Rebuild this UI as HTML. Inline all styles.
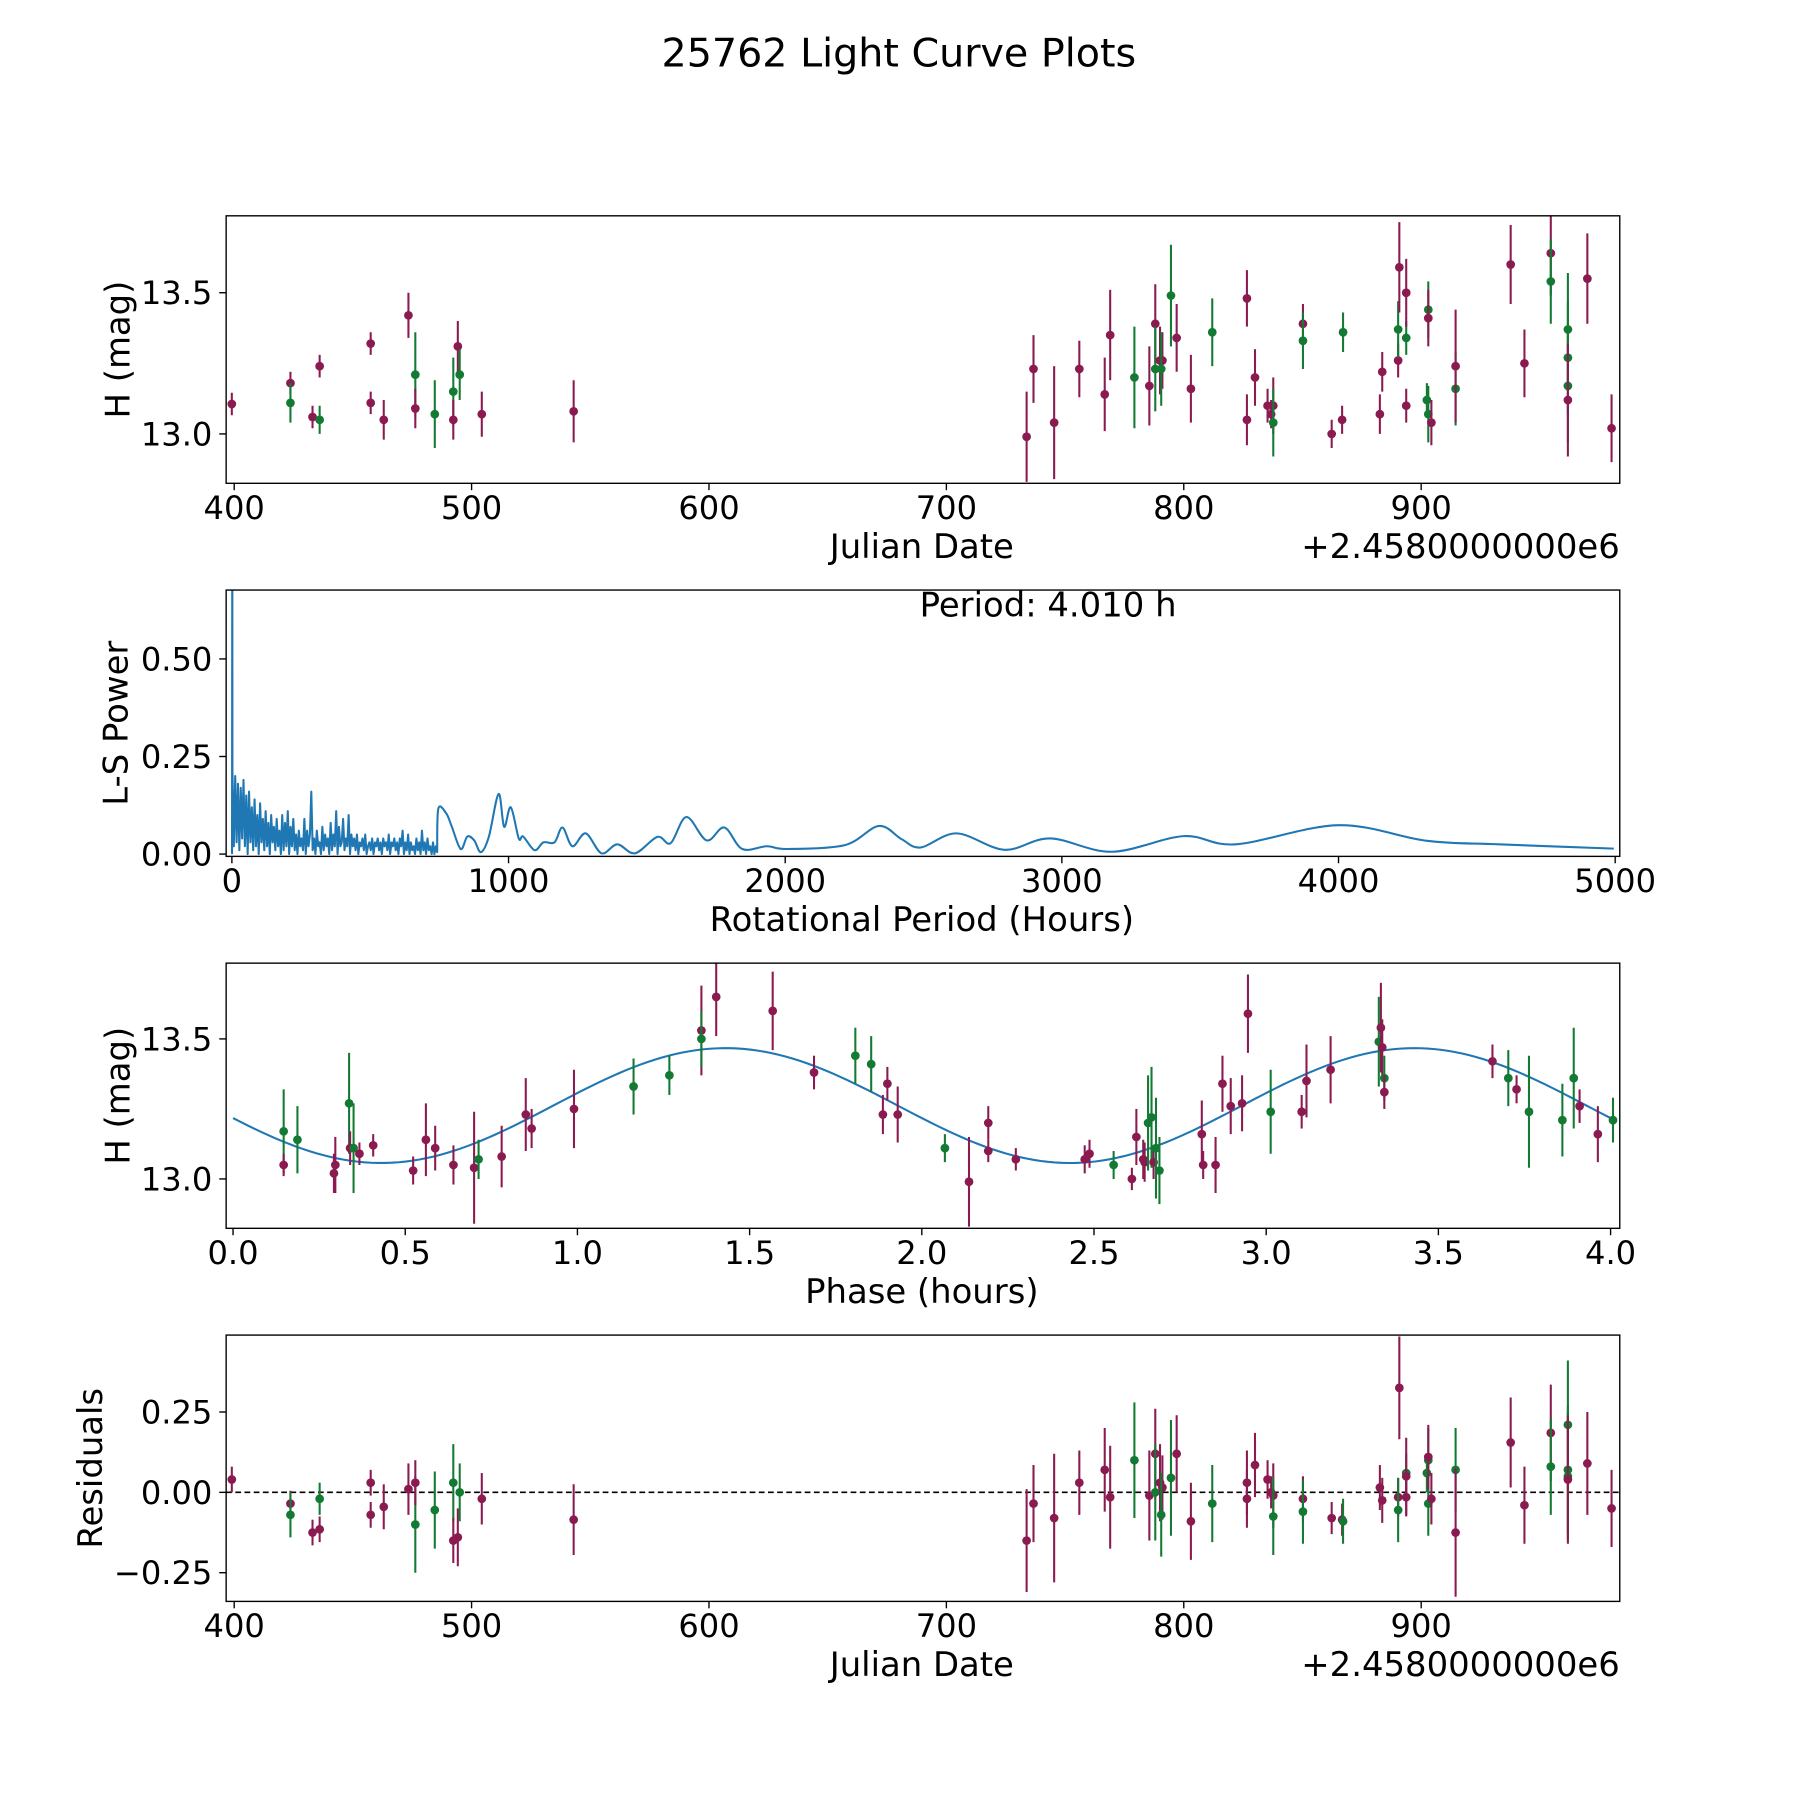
<!DOCTYPE html>
<html><head><meta charset="utf-8"><style>
html,body{margin:0;padding:0;background:#fff}
svg{display:block}
text{font-family:"DejaVu Sans","Liberation Sans",sans-serif;fill:#000}
</style></head><body>
<svg id="fig" width="1800" height="1800" viewBox="0 0 1568 1568" xmlns="http://www.w3.org/2000/svg">
<rect width="1568" height="1568" fill="#fff"/>
<text x="783" y="58" font-size="34.5" text-anchor="middle">25762 Light Curve Plots</text>
</svg>
<script>
// ---------- DATA ----------
const jd = [399,423.7,423.7,433,436,436,457.5,457.5,463,473.4,476.3,476.3,484.5,492.3,492.3,494.2,495,504.3,543,
733.8,736.7,745.4,756,766.7,769,779.2,785.5,788,788,790,791,790.5,794.6,797,803,812,826.6,826.6,830,835.3,836.8,837.7,837.7,850.2,850.2,862.3,866.7,867.1,882.6,883.6,890.3,890.3,890.8,893.7,893.7,893.7,902.4,903,903,903,904.3,914.5,914.5,937.7,943.5,954.6,954.6,961.8,961.8,961.8,961.8,970,980.2];
const mag = [13.106,13.18,13.11,13.06,13.24,13.05,13.32,13.11,13.05,13.42,13.21,13.09,13.07,13.15,13.05,13.31,13.21,13.07,13.08,
12.99,13.23,13.04,13.23,13.14,13.35,13.2,13.17,13.39,13.23,13.26,13.26,13.23,13.49,13.34,13.16,13.36,13.48,13.05,13.2,13.1,13.07,13.1,13.04,13.39,13.33,13.0,13.05,13.36,13.07,13.22,13.26,13.37,13.59,13.34,13.5,13.1,13.12,13.07,13.44,13.41,13.04,13.16,13.24,13.6,13.25,13.64,13.54,13.37,13.27,13.17,13.12,13.55,13.02];
const magErr = [0.04,0.04,0.07,0.04,0.04,0.05,0.04,0.04,0.07,0.08,0.15,0.07,0.12,0.12,0.07,0.09,0.09,0.08,0.11,
0.16,0.12,0.2,0.1,0.13,0.16,0.18,0.14,0.14,0.15,0.12,0.1,0.13,0.18,0.12,0.12,0.12,0.1,0.09,0.1,0.06,0.05,0.1,0.12,0.07,0.1,0.05,0.05,0.07,0.07,0.07,0.06,0.1,0.16,0.06,0.12,0.06,0.06,0.1,0.1,0.1,0.08,0.13,0.2,0.14,0.12,0.15,0.15,0.2,0.2,0.2,0.2,0.16,0.12];
const band = "PPGPPGPPPPGPGGPPGPPPPPPPPGPPGPPGGPPGPPPPPPGPGPPGPPPGPGPPGGGPPGPPPPGGGGPP";
const resid = [0.04,-0.035,-0.07,-0.125,-0.115,-0.02,0.03,-0.07,-0.045,0.01,-0.1,0.03,-0.055,0.03,-0.15,-0.14,0.0,-0.02,-0.085,
-0.15,-0.035,-0.08,0.03,0.07,-0.015,0.1,-0.01,0.12,0.0,0.03,0.015,-0.07,0.045,0.12,-0.09,-0.035,0.03,-0.02,0.085,0.04,0.0,-0.01,-0.075,-0.02,-0.06,-0.08,-0.085,-0.09,0.015,-0.025,-0.015,-0.055,0.325,0.06,0.05,-0.015,0.06,-0.035,0.1,0.11,-0.02,0.07,-0.125,0.155,-0.04,0.185,0.08,0.21,0.07,0.05,0.04,0.09,-0.05];
const phase = [0.147,0.147,0.187,0.293,0.297,0.337,0.34,0.35,0.367,0.407,0.523,0.56,0.587,0.64,0.7,0.713,0.78,0.85,0.867,0.99,1.163,1.267,1.36,1.36,1.403,1.567,1.687,1.807,1.853,1.887,1.9,1.93,2.067,2.137,2.193,2.193,2.273,2.473,2.487,2.557,2.61,2.623,2.643,2.647,2.657,2.667,2.673,2.68,2.69,2.813,2.817,2.853,2.873,2.897,2.93,2.947,3.013,3.103,3.117,3.187,3.327,3.333,3.337,3.343,3.343,3.657,3.703,3.727,3.763,3.86,3.893,3.91,3.963,4.007];
const phaseMag = [13.17,13.05,13.14,13.02,13.05,13.27,13.11,13.11,13.09,13.12,13.03,13.14,13.11,13.05,13.04,13.07,13.08,13.23,13.18,13.25,13.33,13.37,13.53,13.5,13.65,13.6,13.38,13.44,13.41,13.23,13.34,13.23,13.11,12.99,13.1,13.2,13.07,13.07,13.09,13.05,13.0,13.15,13.07,13.06,13.2,13.22,13.06,13.11,13.03,13.16,13.05,13.05,13.34,13.26,13.27,13.59,13.24,13.24,13.35,13.39,13.49,13.54,13.47,13.36,13.31,13.42,13.36,13.32,13.24,13.21,13.36,13.26,13.16,13.21];
const phaseErr = [0.15,0.04,0.12,0.07,0.1,0.18,0.06,0.16,0.04,0.04,0.05,0.13,0.08,0.07,0.2,0.07,0.11,0.13,0.07,0.14,0.1,0.07,0.16,0.1,0.14,0.14,0.06,0.1,0.1,0.07,0.06,0.1,0.05,0.16,0.04,0.06,0.04,0.05,0.05,0.05,0.04,0.1,0.07,0.07,0.17,0.18,0.06,0.18,0.12,0.12,0.05,0.1,0.1,0.1,0.1,0.14,0.15,0.06,0.13,0.12,0.16,0.16,0.1,0.08,0.06,0.06,0.1,0.05,0.2,0.13,0.18,0.06,0.1,0.08];
const phaseBand = "GPGPPGPGPPPPPPPGPPPPGGPGPPPGGPPPGPPPPPPGPPPPGGPGGPPPPPPPGPPPGPPGPPGPGGGPPG";
const fitParams = [13.262, 0.205, 2.0, 0.93]; // mean, amplitude, half-period(h), phase offset
const denseStart = 2, denseStep = 5;
const densePower = [0.21,0.02,0.2,0.03,0.18,0.01,0.17,0.04,0.19,0.02,0.15,0.0,0.16,0.03,0.12,0.01,0.14,0.02,0.1,0.0,0.13,0.03,0.09,0.01,0.11,0.02,0.08,0.0,0.1,0.03,0.07,0.01,0.09,0.02,0.06,0.0,0.1,0.01,0.08,0.02,
0.11,0.0,0.07,0.02,0.09,0.01,0.05,0.0,0.06,0.02,0.04,0.01,0.09,0.0,0.06,0.02,0.05,0.16,0.01,0.04,0.0,0.06,0.02,0.03,0.0,0.07,0.01,0.05,0.02,0.04,
0.0,0.08,0.01,0.05,0.02,0.11,0.0,0.07,0.02,0.03,0.09,0.01,0.04,0.02,0.1,0.0,0.05,0.02,0.04,0.01,0.05,0.0,0.03,0.02,0.04,0.01,0.05,0.0,0.02,0.03,
0.01,0.04,0.0,0.03,0.02,0.04,0.01,0.03,0.0,0.04,0.02,0.03,0.01,0.05,0.0,0.03,0.02,0.04,0.01,0.03,0.0,0.04,0.02,0.06,0.0,0.03,0.01,0.05,0.0,0.03,0.01,0.02,0.0,0.04,0.01,0.03,0.0,0.06,0.01,0.03,0.0,0.04,0.01,0.02,0.0,0.03,0.0,0.02,0.005];
const smoothPeriod = [746,775,795,827,851,876,900,929,964,984,1008,1037,1053,1094,1126,1166,1195,1231,1279,1336,1393,1457,1538,1586,1643,1716,1780,1845,1934,2006,2216,2338,2421,2490,2620,2793,2957,3181,3440,3630,4000,4320,4580,4995];
const smoothPower = [0.116,0.104,0.07,0.013,0.045,0.035,0.005,0.045,0.154,0.07,0.12,0.04,0.045,0.01,0.03,0.03,0.068,0.02,0.053,0.002,0.025,0.002,0.044,0.028,0.095,0.035,0.068,0.013,0.02,0.013,0.023,0.072,0.038,0.017,0.053,0.011,0.04,0.006,0.046,0.025,0.074,0.034,0.025,0.014];
const spikePeriod = [1.5], spikePower = [0.9];
const jdTicks = [400,500,600,700,800,900];
const magTicks = [13.0,13.5];
const perTicks = [0,1000,2000,3000,4000,5000];
const powTicks = [0.0,0.25,0.5];
const phTicks = [0,0.5,1,1.5,2,2.5,3,3.5,4];
const resTicks = [-0.25,0,0.25];

// ---------- helpers ----------
const NS="http://www.w3.org/2000/svg";
const svg=document.getElementById('fig');
const PUR="#8a1a50", GRN="#127a32", BLUE="#1f77b4";
const TF=28, LF=29.5;
function mk(tag,attrs,parent){const e=document.createElementNS(NS,tag);for(const k in attrs)e.setAttribute(k,attrs[k]);(parent||svg).appendChild(e);return e;}
function lin(d0,d1,p0,p1){return v=>p0+(v-d0)*(p1-p0)/(d1-d0);}
const L=197,R=1411;
function panel(name,top,bot,xs,ys,xt,xfmt,yt,yfmt,xlabel,ylabel,ylx){
  const g=mk('g',{});
  
  
  const clipId=name+'-clip';
  const cp=mk('clipPath',{id:clipId},g);mk('rect',{x:L,y:top,width:R-L,height:bot-top},cp);
  const plot=mk('g',{'clip-path':'url(#'+clipId+')'},g);
  
  
  xt.forEach(v=>{const x=xs(v);mk('line',{x1:x,x2:x,y1:bot,y2:bot+6,stroke:'#000','stroke-width':1.2},g);
    const t=mk('text',{x:x,y:bot+31,'font-size':TF,'text-anchor':'middle'},g);t.textContent=xfmt(v);
    
    });
  yt.forEach(v=>{const y=ys(v);mk('line',{x1:L-6,x2:L,y1:y,y2:y,stroke:'#000','stroke-width':1.2},g);
    const t=mk('text',{x:L-12,y:y+10,'font-size':TF,'text-anchor':'end'},g);t.textContent=yfmt(v);
    
    });
  const xl=mk('text',{x:803,y:bot+65,'font-size':LF,'text-anchor':'middle'},g);xl.textContent=xlabel;
  
  
  const yl=mk('text',{x:ylx,y:(top+bot)/2,'font-size':LF,'text-anchor':'middle',transform:'rotate(-90 '+ylx+' '+(top+bot)/2+')'},g);yl.textContent=ylabel;
  
  
  return {g,plot,frame:()=>{const f=mk('rect',{x:L,y:top,width:R-L,height:bot-top,fill:'none',stroke:'#000','stroke-width':1.2},g);
    
    }};
}
function errpts(parent,xs,ys,X,Y,E,B,name){
  for(let i=0;i<X.length;i++){
    const c=B[i]==='G'?GRN:PUR;const x=xs(X[i]);
    const ln=mk('line',{x1:x,x2:x,y1:ys(Y[i]-E[i]),y2:ys(Y[i]+E[i]),stroke:c,'stroke-width':1.8},parent);
    
    
    const p=mk('circle',{cx:x,cy:ys(Y[i]),r:3.8,fill:c},parent);
    
    
  }
}
const f1=v=>v.toFixed(1), f2=v=>(v<0?'\u2212':'')+Math.abs(v).toFixed(2), fi=v=>String(v);

// ---------- Panel 1 ----------
{const top=188,bot=421;const xs=lin(400,900,204,1238);const ys=lin(13,13.5,378,255);
 const P=panel('light-curve-panel',top,bot,xs,ys,jdTicks,fi,magTicks,f1,'Julian Date','H (mag)',113);
 errpts(P.plot,xs,ys,jd,mag,magErr,band,'observation');P.frame();
 const o=mk('text',{x:1411,y:bot+65,'font-size':LF,'text-anchor':'end'},P.g);o.textContent='+2.4580000000e6';
 
 }

// ---------- Panel 2 ----------
{const top=514,bot=746;const xs=lin(0,1000,202,443);const ys=lin(0,0.5,744,574);
 const P=panel('periodogram-panel',top,bot,xs,ys,perTicks,fi,powTicks,f2,'Rotational Period (Hours)','L-S Power',111);
 const pts=[];densePower.forEach((v,i)=>pts.push([xs(denseStart+i*denseStep),ys(v)]));
 const sp=smoothPeriod.map((p,i)=>[xs(p),ys(smoothPower[i])]);
 let d1='M'+xs(0.5)+','+ys(0)+' L'+xs(spikePeriod[0])+','+ys(spikePower[0]);
 pts.forEach(p=>d1+=' L'+p[0].toFixed(2)+','+p[1].toFixed(2));
 const all=[pts[pts.length-1]].concat(sp);
 for(let i=0;i<all.length-1;i++){const p0=all[Math.max(0,i-1)],p1=all[i],p2=all[i+1],p3=all[Math.min(all.length-1,i+2)];
   d1+=' C'+(p1[0]+(p2[0]-p0[0])/6).toFixed(2)+','+(p1[1]+(p2[1]-p0[1])/6).toFixed(2)+' '+(p2[0]-(p3[0]-p1[0])/6).toFixed(2)+','+(p2[1]-(p3[1]-p1[1])/6).toFixed(2)+' '+p2[0].toFixed(2)+','+p2[1].toFixed(2);}
 const pl=mk('path',{d:d1,fill:'none',stroke:BLUE,'stroke-width':1.8,'stroke-linejoin':'round'},P.plot);
 
 
 P.frame();
 const t=mk('text',{x:913,y:537,'font-size':LF,'text-anchor':'middle'},P.g);t.textContent='Period: 4.010 h';
 
 }

// ---------- Panel 3 ----------
{const top=839,bot=1070;const xs=lin(0,4,203,1403);const ys=lin(13,13.5,1027,905);
 const P=panel('phase-panel',top,bot,xs,ys,phTicks,f1,magTicks,f1,'Phase (hours)','H (mag)',113);
 let d='';for(let i=0;i<=200;i++){const p=4.01*i/200;const m=fitParams[0]+fitParams[1]*Math.sin(2*Math.PI*(p-fitParams[3])/fitParams[2]);d+=(i?' L':'M')+xs(p).toFixed(2)+','+ys(m).toFixed(2);}
 const fl=mk('path',{d:d,fill:'none',stroke:BLUE,'stroke-width':1.8},P.plot);
 
 
 errpts(P.plot,xs,ys,phase,phaseMag,phaseErr,phaseBand,'phased-observation');P.frame();}

// ---------- Panel 4 ----------
{const top=1163,bot=1395;const xs=lin(400,900,204,1238);const ys=lin(0,0.25,1300,1230);
 const P=panel('residuals-panel',top,bot,xs,ys,jdTicks,fi,resTicks,f2,'Julian Date','Residuals',89);
 const z=mk('line',{x1:L,x2:R,y1:ys(0),y2:ys(0),stroke:'#000','stroke-width':1.4,'stroke-dasharray':'5,3'},P.plot);
 
 
 errpts(P.plot,xs,ys,jd,resid,magErr,band,'residual');P.frame();
 const o=mk('text',{x:1411,y:bot+65,'font-size':LF,'text-anchor':'end'},P.g);o.textContent='+2.4580000000e6';
 
 }
</script>
</body></html>
